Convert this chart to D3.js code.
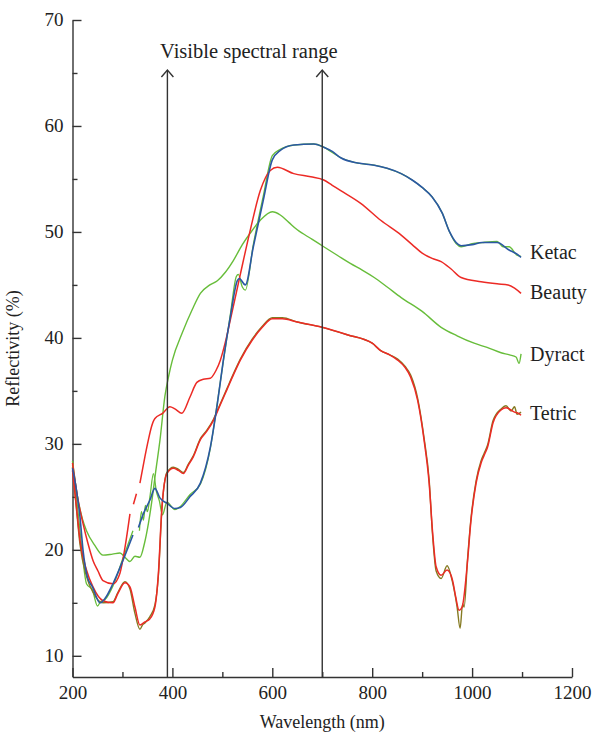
<!DOCTYPE html>
<html>
<head>
<meta charset="utf-8">
<script src="https://cdn.jsdelivr.net/npm/d3@7"></script>
<style>
  body { margin: 0; background: #fff; }
  svg text { font-family: "Liberation Serif", "DejaVu Serif", serif; fill: #222; }
</style>
</head>
<body>
<svg id="chart" width="594" height="737"></svg>
<script>
// tick values
var xTicks = [200, 400, 600, 800, 1000, 1200];
var xMinor = [300, 500, 700, 900, 1100];
var yTicks = [10, 20, 30, 40, 50, 60, 70];
var yMinor = [15, 25, 35, 45, 55, 65];

// series: [wavelength nm, reflectivity %], null = gap
var ketac = [[200,27.7],[208,25.6],[215,23.1],[221,20.0],[230,17.4],[240,16.5],[255,15.0],[265,15.4],[281,16.8],[301,19.0],[321,21.4],[325,null],
  [332,22.1],[341,23.3],[355,24.7],[365,25.8],[375,24.9],[389,24.4],[405,23.9],[416,24.0],[435,25.0],[456,26.3],[476,29.7],[490,33.8],[502,37.9],
  [516,42.0],[530,45.4],[534,45.6],[546,45.0],[562,48.6],[582,53.0],[600,56.8],[616,57.7],[643,58.2],[683,58.3],[703,58.0],[720,57.6],[737,57.0],
  [771,56.5],[804,56.3],[830,56.0],[858,55.5],[880,54.9],[900,54.2],[920,53.3],[940,51.8],[955,50.0],[968,49.0],[978,48.7],[1000,48.8],[1020,49.0],
  [1050,49.0],[1074,48.3],[1090,47.9],[1098,47.6]];
var ketacRaw = [[200,28.0],[208,25.0],[215,21.8],[221,19.0],[228,16.8],[240,16.2],[250,14.7],[256,15.1],[265,15.3],[281,16.6],[301,19.2],[321,21.8],[325,null],
  [334,21.8],[338,23.6],[342,22.8],[346,24.2],[350,23.6],[355,25.0],[362,27.2],[368,25.5],[374,24.6],[380,23.3],[389,24.5],[405,23.8],[416,24.1],[435,25.2],[456,26.2],
  [476,29.6],[490,33.9],[502,37.8],[516,42.2],[528,45.8],[532,46.0],[540,44.8],[546,44.5],[562,48.8],[582,53.4],[600,57.2],[616,57.8],[643,58.2],
  [683,58.3],[703,58.0],[720,57.5],[737,57.0],[771,56.5],[804,56.3],[830,56.0],[858,55.5],[880,54.9],[900,54.2],[920,53.3],[940,51.8],[955,50.0],
  [968,48.9],[978,48.6],[1000,48.9],[1020,49.0],[1050,49.1],[1062,48.6],[1074,48.6],[1090,47.8],[1098,47.7]];
var beauty = [[200,28.2],[210,25.0],[221,22.5],[231,20.6],[241,19.0],[251,18.0],[261,17.1],[281,16.8],[295,17.8],[305,20.2],[315,23.4],[318,null],
  [322,24.3],[328,25.3],[331,null],[335,26.3],[345,28.8],[352,30.4],[358,31.6],[365,32.4],[381,32.9],[395,33.5],[405,33.3],[419,32.9],[435,34.4],
  [449,35.8],[462,36.1],[476,36.2],[487,36.9],[496,37.9],[506,39.6],[516,41.7],[536,46.0],[556,50.2],[576,53.9],[596,55.8],[610,56.1],[643,55.5],
  [677,55.2],[703,54.9],[720,54.4],[737,53.9],[777,52.7],[817,51.1],[858,49.7],[880,48.8],[900,48.0],[920,47.5],[938,47.2],[958,46.5],[978,45.7],
  [1018,45.3],[1050,45.1],[1072,45.0],[1085,44.7],[1098,44.2]];
var dyract = [[200,28.4],[210,25.0],[220,22.9],[228,21.8],[245,20.4],[261,19.5],[280,19.6],[295,19.7],[305,19.3],[315,18.9],[325,19.4],[335,19.3],
  [344,20.6],[352,22.5],[360,25.0],[366,27.2],[375,30.3],[385,34.5],[393,36.5],[400,37.9],[420,40.5],[440,42.7],[456,44.2],[475,45.0],[490,45.4],
  [506,46.2],[522,47.3],[540,48.8],[556,49.9],[576,51.1],[600,51.9],[616,51.6],[633,50.9],[650,50.2],[680,49.3],[703,48.6],[730,47.8],[757,47.0],
  [780,46.4],[804,45.7],[830,44.8],[858,43.8],[900,42.5],[938,41.0],[970,40.2],[1004,39.5],[1030,39.1],[1058,38.6],[1075,38.4],[1088,38.2],
  [1094,37.6],[1098,38.5]];
var tetric = [[200,27.5],[208,24.0],[215,20.9],[228,18.1],[241,16.5],[261,15.2],[281,15.0],[291,15.9],[305,16.9],[315,16.5],[325,14.6],[335,12.9],
  [345,13.2],[355,13.5],[365,14.6],[372,17.8],[379,24.0],[389,27.2],[402,27.7],[412,27.5],[422,27.2],[432,28.0],[442,28.8],[456,30.4],[469,31.2],
  [482,32.2],[495,33.6],[509,35.1],[523,36.6],[536,37.9],[560,39.8],[580,41.0],[600,41.8],[620,41.8],[650,41.5],[700,41.0],[750,40.3],[800,39.5],
  [817,38.8],[835,38.4],[851,37.9],[866,37.2],[877,36.3],[891,34.1],[904,30.3],[914,26.3],[921,21.6],[928,18.4],[938,17.6],[950,18.1],[961,17.1],
  [967,15.6],[974,14.3],[980,14.6],[991,19.0],[997,22.4],[1008,26.3],[1018,28.2],[1024,28.9],[1031,29.7],[1042,32.0],[1058,33.2],[1068,33.4],
  [1085,33.0],[1092,32.9],[1098,32.7]];
var tetricRaw = [[200,27.8],[208,23.8],[215,20.5],[228,17.5],[241,16.0],[261,15.0],[281,15.1],[291,16.0],[305,17.0],[315,16.3],[325,14.0],[335,12.5],
  [340,12.9],[345,13.1],[355,13.7],[365,14.8],[372,17.6],[379,23.8],[389,27.3],[402,27.8],[412,27.6],[422,27.3],[432,28.1],[442,28.9],[456,30.5],
  [469,31.3],[482,32.3],[495,33.7],[509,35.2],[523,36.7],[536,38.0],[560,39.9],[580,41.1],[600,41.9],[620,41.9],[650,41.5],[700,41.0],[750,40.3],
  [800,39.5],[817,38.8],[835,38.4],[851,38.0],[866,37.3],[877,36.5],[891,34.3],[904,30.5],[914,26.6],[921,21.3],[928,18.0],[938,17.3],[950,18.5],
  [961,16.9],[970,14.6],[976,12.6],[981,14.9],[984,14.6],[991,19.2],[997,22.6],[1008,26.5],[1018,28.4],[1024,29.1],[1031,29.9],[1042,32.2],
  [1058,33.3],[1068,33.6],[1078,33.1],[1085,33.5],[1090,32.8],[1098,33.0]];

var labels = [
  { name: "Ketac", at: 48.1 },
  { name: "Beauty", at: 44.3 },
  { name: "Dyract", at: 38.5 },
  { name: "Tetric", at: 32.9 }
];
var visibleRange = [390, 700];

var margin = { top: 20, right: 22, bottom: 60, left: 72.5 },
    width = 594 - margin.left - margin.right,
    height = 737 - margin.top - margin.bottom;

var svg = d3.select("#chart")
  .append("g")
  .attr("transform", "translate(" + margin.left + "," + margin.top + ")");

var x = d3.scaleLinear().domain([200, 1200]).range([0, width]);
var y = d3.scaleLinear().domain([8, 70]).range([height, 0]);

// axes, ticks pointing inward
svg.append("g")
  .attr("transform", "translate(0," + height + ")")
  .call(d3.axisBottom(x).tickValues(xMinor).tickSize(-5).tickFormat(""))
  .call(g => g.select(".domain").remove());
svg.append("g")
  .attr("class", "xaxis")
  .attr("transform", "translate(0," + height + ")")
  .call(d3.axisBottom(x).tickValues(xTicks).tickSize(-9).tickSizeOuter(0).tickPadding(6).tickFormat(d3.format("d")));
svg.append("g")
  .call(d3.axisLeft(y).tickValues(yMinor).tickSize(-5).tickFormat(""))
  .call(g => g.select(".domain").remove());
svg.append("g")
  .attr("class", "yaxis")
  .call(d3.axisLeft(y).tickValues(yTicks).tickSize(-9).tickSizeOuter(0).tickPadding(9));

svg.selectAll(".tick line, .domain").attr("stroke", "#333").attr("stroke-width", 1.4);
svg.selectAll(".xaxis text, .yaxis text")
  .style("font-size", "19px")
  .style("font-family", "'Liberation Serif', serif")
  .attr("fill", "#222");
svg.selectAll(".xaxis text").attr("dy", "0.85em");
svg.selectAll(".yaxis text").attr("dy", "0.3em");

// spectra
var line = d3.line()
  .defined(d => d[1] !== null)
  .x(d => x(d[0]))
  .y(d => y(d[1]))
  .curve(d3.curveMonotoneX);

var series = [
  { data: ketacRaw, color: "#67bd3a", w: 1.3 },
  { data: dyract, color: "#67bd3a", w: 1.4 },
  { data: tetricRaw, color: "#857a22", w: 1.4 },
  { data: beauty, color: "#ec2a25", w: 1.5 },
  { data: tetric, color: "#ec2a25", w: 1.5 },
  { data: ketac, color: "#2b58a3", w: 1.6 }
];
series.forEach(function (s) {
  svg.append("path")
    .datum(s.data)
    .attr("d", line)
    .attr("fill", "none")
    .attr("stroke", s.color)
    .attr("stroke-width", s.w)
    .attr("stroke-linejoin", "round");
});

// visible range arrows
var arrowTop = 50;
visibleRange.forEach(function (v) {
  svg.append("line")
    .attr("x1", x(v)).attr("x2", x(v))
    .attr("y1", height).attr("y2", arrowTop)
    .attr("stroke", "#333").attr("stroke-width", 1.4);
  svg.append("path")
    .attr("d", "M" + (x(v) - 6) + "," + (arrowTop + 7) + "L" + x(v) + "," + arrowTop + "L" + (x(v) + 6) + "," + (arrowTop + 7))
    .attr("fill", "none").attr("stroke", "#333").attr("stroke-width", 1.4);
});
svg.append("text")
  .attr("x", (x(visibleRange[0]) + x(visibleRange[1])) / 2 + 4)
  .attr("y", 38)
  .attr("text-anchor", "middle")
  .style("font-size", "20.5px")
  .text("Visible spectral range");

// series labels
svg.selectAll(".lbl")
  .data(labels)
  .enter().append("text")
  .attr("class", "lbl")
  .attr("x", x(1116))
  .attr("y", d => y(d.at))
  .attr("dy", "0.35em")
  .style("font-size", "20px")
  .text(d => d.name);

// axis titles
svg.append("text")
  .attr("x", width / 2)
  .attr("y", height + 51)
  .attr("text-anchor", "middle")
  .style("font-size", "18px")
  .text("Wavelength (nm)");
svg.append("text")
  .attr("transform", "translate(" + (-54) + "," + y(39) + ") rotate(-90)")
  .attr("text-anchor", "middle")
  .style("font-size", "18px")
  .text("Reflectivity (%)");
</script>
</body>
</html>
